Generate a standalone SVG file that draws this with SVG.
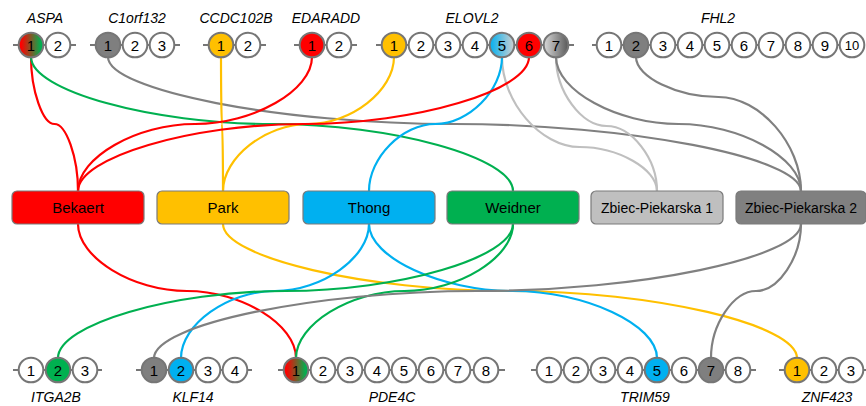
<svg xmlns="http://www.w3.org/2000/svg" width="866" height="406" viewBox="0 0 866 406">
<defs>
<linearGradient id="gRG" x1="0" y1="0" x2="1" y2="0"><stop offset="0.1" stop-color="#FF0000"/><stop offset="0.9" stop-color="#00B050"/></linearGradient>
<linearGradient id="gBG" x1="0" y1="0" x2="1" y2="0"><stop offset="0" stop-color="#00B0F0"/><stop offset="1" stop-color="#D0D0D0"/></linearGradient>
<linearGradient id="gGG" x1="0" y1="0" x2="1" y2="0"><stop offset="0" stop-color="#D9D9D9"/><stop offset="1" stop-color="#595959"/></linearGradient>
<style>
.c{fill:#fff;stroke:#767676;stroke-width:2}
.stub{stroke:#767676;stroke-width:2}
.n{font-family:"Liberation Sans",Arial,sans-serif;font-size:15px;text-anchor:middle;fill:#000}
.lbl{font-family:"Liberation Sans",Arial,sans-serif;font-size:14px;font-style:italic;text-anchor:middle;fill:#000}
.box{stroke:#7a7a7a;stroke-width:1.2}
.bt{font-family:"Liberation Sans",Arial,sans-serif;font-size:15px;text-anchor:middle;fill:#000}
.bs{font-size:14px}
.k{fill:none;stroke-width:2.2}
.red{stroke:#FF0000}.yel{stroke:#FFC000}.blu{stroke:#00B0F0}.grn{stroke:#00B050}.gry{stroke:#808080}.lgr{stroke:#BFBFBF}
.fR{fill:#FF0000}.fY{fill:#FFC000}.fB{fill:#00B0F0}.fG{fill:#00B050}.fD{fill:#7F7F7F}
</style>
</defs>
<rect width="866" height="406" fill="#fff"/>
<g id="connectors">
<path class="k red" d="M31,57 C31,90.5 42.75,124 54.5,124 C66.25,124 78,157.5 78,191"/>
<path class="k grn" d="M31,57 C31,90.5 151.5,124 272,124 C392.5,124 513,157.5 513,191"/>
<path class="k gry" d="M108,57 C108,90.5 281.25,124 454.5,124 C627.75,124 801,157.5 801,191"/>
<path class="k yel" d="M221,57 C221,90.5 221.5,124 222,124 C222.5,124 223,157.5 223,191"/>
<path class="k red" d="M312,57 C312,90.5 253.5,124 195,124 C136.5,124 78,157.5 78,191"/>
<path class="k yel" d="M394,57 C394,90.5 351.25,124 308.5,124 C265.75,124 223,157.5 223,191"/>
<path class="k lgr" d="M502,57 C502,102 540.75,147 579.5,147 C618.25,147 657,169 657,191"/>
<path class="k lgr" d="M556,57 C556,91.5 581.25,126 606.5,126 C631.75,126 657,158.5 657,191"/>
<path class="k blu" d="M502,57 C502,90.5 468.75,124 435.5,124 C402.25,124 369,157.5 369,191"/>
<path class="k red" d="M529,57 C529,90.5 416.25,124 303.5,124 C190.75,124 78,157.5 78,191"/>
<path class="k gry" d="M556,57 C556,90.5 617.25,124 678.5,124 C739.75,124 801,157.5 801,191"/>
<path class="k gry" d="M636,57 C636,77 677.25,97 718.5,97 C759.75,97 801,144 801,191"/>
<path class="k red" d="M78,224 C78,257.5 132.5,291 187,291 C241.5,291 296,324.5 296,358"/>
<path class="k yel" d="M223,224 C223,257.5 366.5,291 510,291 C653.5,291 797,324.5 797,358"/>
<path class="k blu" d="M369,224 C369,257.5 322,291 275,291 C228,291 181,324.5 181,358"/>
<path class="k blu" d="M369,224 C369,257.5 441,291 513,291 C585,291 657,324.5 657,358"/>
<path class="k grn" d="M513,224 C513,257.5 399.25,291 285.5,291 C171.75,291 58,324.5 58,358"/>
<path class="k grn" d="M513,224 C513,257.5 458.75,291 404.5,291 C350.25,291 296,324.5 296,358"/>
<path class="k gry" d="M801,224 C801,257.5 639.25,291 477.5,291 C315.75,291 154,324.5 154,358"/>
<path class="k gry" d="M801,224 C801,257.5 778.5,291 756,291 C733.5,291 711,324.5 711,358"/>
</g>
<g id="ASPA">
<text class="lbl" x="45" y="23">ASPA</text>
<line class="stub" x1="13" y1="45" x2="76" y2="45"/>
<circle class="c" cx="31" cy="45" r="12.3" style="fill:url(#gRG)"/><text class="n" x="31" y="50.5">1</text>
<circle class="c" cx="58" cy="45" r="12.3"/><text class="n" x="58" y="50.5">2</text>
</g>
<g id="C1orf132">
<text class="lbl" x="137" y="23">C1orf132</text>
<line class="stub" x1="90" y1="45" x2="180" y2="45"/>
<circle class="c fD" cx="108" cy="45" r="12.3"/><text class="n" x="108" y="50.5">1</text>
<circle class="c" cx="135" cy="45" r="12.3"/><text class="n" x="135" y="50.5">2</text>
<circle class="c" cx="162" cy="45" r="12.3"/><text class="n" x="162" y="50.5">3</text>
</g>
<g id="CCDC102B">
<text class="lbl" x="236" y="23">CCDC102B</text>
<line class="stub" x1="203" y1="45" x2="266" y2="45"/>
<circle class="c fY" cx="221" cy="45" r="12.3"/><text class="n" x="221" y="50.5">1</text>
<circle class="c" cx="248" cy="45" r="12.3"/><text class="n" x="248" y="50.5">2</text>
</g>
<g id="EDARADD">
<text class="lbl" x="326" y="23">EDARADD</text>
<line class="stub" x1="294" y1="45" x2="357" y2="45"/>
<circle class="c fR" cx="312" cy="45" r="12.3"/><text class="n" x="312" y="50.5">1</text>
<circle class="c" cx="339" cy="45" r="12.3"/><text class="n" x="339" y="50.5">2</text>
</g>
<g id="ELOVL2">
<text class="lbl" x="472" y="23">ELOVL2</text>
<line class="stub" x1="376" y1="45" x2="574" y2="45"/>
<circle class="c fY" cx="394" cy="45" r="12.3"/><text class="n" x="394" y="50.5">1</text>
<circle class="c" cx="421" cy="45" r="12.3"/><text class="n" x="421" y="50.5">2</text>
<circle class="c" cx="448" cy="45" r="12.3"/><text class="n" x="448" y="50.5">3</text>
<circle class="c" cx="475" cy="45" r="12.3"/><text class="n" x="475" y="50.5">4</text>
<circle class="c" cx="502" cy="45" r="12.3" style="fill:url(#gBG)"/><text class="n" x="502" y="50.5">5</text>
<circle class="c fR" cx="529" cy="45" r="12.3"/><text class="n" x="529" y="50.5">6</text>
<circle class="c" cx="556" cy="45" r="12.3" style="fill:url(#gGG)"/><text class="n" x="556" y="50.5">7</text>
</g>
<g id="FHL2">
<text class="lbl" x="718" y="23">FHL2</text>
<line class="stub" x1="592" y1="45" x2="862" y2="45"/>
<circle class="c" cx="609" cy="45" r="12.3"/><text class="n" x="609" y="50.5">1</text>
<circle class="c fD" cx="636" cy="45" r="12.3"/><text class="n" x="636" y="50.5">2</text>
<circle class="c" cx="663" cy="45" r="12.3"/><text class="n" x="663" y="50.5">3</text>
<circle class="c" cx="690" cy="45" r="12.3"/><text class="n" x="690" y="50.5">4</text>
<circle class="c" cx="717" cy="45" r="12.3"/><text class="n" x="717" y="50.5">5</text>
<circle class="c" cx="744" cy="45" r="12.3"/><text class="n" x="744" y="50.5">6</text>
<circle class="c" cx="771" cy="45" r="12.3"/><text class="n" x="771" y="50.5">7</text>
<circle class="c" cx="798" cy="45" r="12.3"/><text class="n" x="798" y="50.5">8</text>
<circle class="c" cx="825" cy="45" r="12.3"/><text class="n" x="825" y="50.5">9</text>
<circle class="c" cx="852" cy="45" r="12.3"/><text class="n" x="852" y="50" style="font-size:13px">10</text>
</g>
<g id="Bekaert"><rect class="box" x="12" y="191" width="132" height="33" rx="5" fill="#FF0000"/><text class="bt" x="78" y="213">Bekaert</text></g>
<g id="Park"><rect class="box" x="157" y="191" width="132" height="33" rx="5" fill="#FFC000"/><text class="bt" x="223" y="213">Park</text></g>
<g id="Thong"><rect class="box" x="303" y="191" width="132" height="33" rx="5" fill="#00B0F0"/><text class="bt" x="369" y="213">Thong</text></g>
<g id="Weidner"><rect class="box" x="447" y="191" width="132" height="33" rx="5" fill="#00B050"/><text class="bt" x="513" y="213">Weidner</text></g>
<g id="Zbiec-Piekarska1"><rect class="box" x="591" y="191" width="132" height="33" rx="5" fill="#BFBFBF"/><text class="bt bs" x="657" y="213">Zbiec-Piekarska 1</text></g>
<g id="Zbiec-Piekarska2"><rect class="box" x="736" y="191" width="130" height="33" rx="5" fill="#808080"/><text class="bt bs" x="801" y="213">Zbiec-Piekarska 2</text></g>
<g id="ITGA2B">
<line class="stub" x1="13" y1="370" x2="102" y2="370"/>
<circle class="c" cx="31" cy="370" r="12.3"/><text class="n" x="31" y="375.5">1</text>
<circle class="c fG" cx="58" cy="370" r="12.3"/><text class="n" x="58" y="375.5">2</text>
<circle class="c" cx="85" cy="370" r="12.3"/><text class="n" x="85" y="375.5">3</text>
<text class="lbl" x="56" y="402">ITGA2B</text>
</g>
<g id="KLF14">
<line class="stub" x1="136" y1="370" x2="252" y2="370"/>
<circle class="c fD" cx="154" cy="370" r="12.3"/><text class="n" x="154" y="375.5">1</text>
<circle class="c fB" cx="181" cy="370" r="12.3"/><text class="n" x="181" y="375.5">2</text>
<circle class="c" cx="208" cy="370" r="12.3"/><text class="n" x="208" y="375.5">3</text>
<circle class="c" cx="235" cy="370" r="12.3"/><text class="n" x="235" y="375.5">4</text>
<text class="lbl" x="193" y="402">KLF14</text>
</g>
<g id="PDE4C">
<line class="stub" x1="278" y1="370" x2="505" y2="370"/>
<circle class="c" cx="296" cy="370" r="12.3" style="fill:url(#gRG)"/><text class="n" x="296" y="375.5">1</text>
<circle class="c" cx="323" cy="370" r="12.3"/><text class="n" x="323" y="375.5">2</text>
<circle class="c" cx="350" cy="370" r="12.3"/><text class="n" x="350" y="375.5">3</text>
<circle class="c" cx="377" cy="370" r="12.3"/><text class="n" x="377" y="375.5">4</text>
<circle class="c" cx="404" cy="370" r="12.3"/><text class="n" x="404" y="375.5">5</text>
<circle class="c" cx="431" cy="370" r="12.3"/><text class="n" x="431" y="375.5">6</text>
<circle class="c" cx="458" cy="370" r="12.3"/><text class="n" x="458" y="375.5">7</text>
<circle class="c" cx="486" cy="370" r="12.3"/><text class="n" x="486" y="375.5">8</text>
<text class="lbl" x="392" y="402">PDE4C</text>
</g>
<g id="TRIM59">
<line class="stub" x1="531" y1="370" x2="756" y2="370"/>
<circle class="c" cx="549" cy="370" r="12.3"/><text class="n" x="549" y="375.5">1</text>
<circle class="c" cx="576" cy="370" r="12.3"/><text class="n" x="576" y="375.5">2</text>
<circle class="c" cx="603" cy="370" r="12.3"/><text class="n" x="603" y="375.5">3</text>
<circle class="c" cx="630" cy="370" r="12.3"/><text class="n" x="630" y="375.5">4</text>
<circle class="c fB" cx="657" cy="370" r="12.3"/><text class="n" x="657" y="375.5">5</text>
<circle class="c" cx="684" cy="370" r="12.3"/><text class="n" x="684" y="375.5">6</text>
<circle class="c fD" cx="711" cy="370" r="12.3"/><text class="n" x="711" y="375.5">7</text>
<circle class="c" cx="738" cy="370" r="12.3"/><text class="n" x="738" y="375.5">8</text>
<text class="lbl" x="645" y="402">TRIM59</text>
</g>
<g id="ZNF423">
<line class="stub" x1="779" y1="370" x2="866" y2="370"/>
<circle class="c fY" cx="797" cy="370" r="12.3"/><text class="n" x="797" y="375.5">1</text>
<circle class="c" cx="824" cy="370" r="12.3"/><text class="n" x="824" y="375.5">2</text>
<circle class="c" cx="851" cy="370" r="12.3"/><text class="n" x="851" y="375.5">3</text>
<text class="lbl" x="827" y="402">ZNF423</text>
</g>
</svg>
